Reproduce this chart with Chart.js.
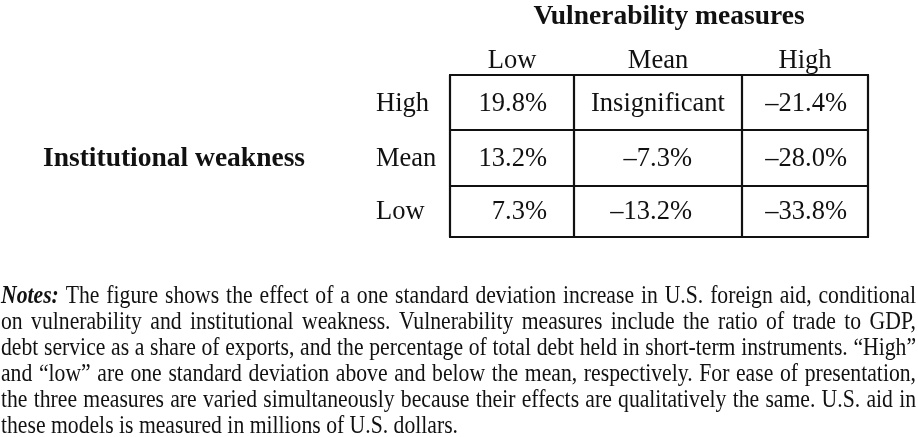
<!DOCTYPE html>
<html>
<head>
<meta charset="utf-8">
<script src="https://cdn.jsdelivr.net/npm/chart.js@4.4.1/dist/chart.umd.min.js"></script>
<style>
  html, body { margin: 0; padding: 0; background: #fff; }
  canvas { display: block; }
</style>
</head>
<body>
<canvas id="chart" width="918" height="437"></canvas>
<script>
// Table contents
const columnTitle = 'Vulnerability measures';
const rowTitle = 'Institutional weakness';
const vulnerabilityLevels = ['Low', 'Mean', 'High'];
const weaknessLevels = ['High', 'Mean', 'Low'];
const effectHighWeakness = [19.8, null, -21.4];
const effectMeanWeakness = [13.2, -7.3, -28.0];
const effectLowWeakness = [7.3, -13.2, -33.8];
const notesLabel = 'Notes:';
const notesLines = [
    'The figure shows the effect of a one standard deviation increase in U.S. foreign aid, conditional',
    'on vulnerability and institutional weakness. Vulnerability measures include the ratio of trade to GDP,',
    'debt service as a share of exports, and the percentage of total debt held in short-term instruments. \u201cHigh\u201d',
    'and \u201clow\u201d are one standard deviation above and below the mean, respectively. For ease of presentation,',
    'the three measures are varied simultaneously because their effects are qualitatively the same. U.S. aid in',
    'these models is measured in millions of U.S. dollars.'
];

// Layout in scale units (one unit = one pixel of the figure)
const colEdges = [450, 574, 742, 868];
const rowEdges = [75, 130, 186, 237];
const cellRight = [547, 692, 847];
const rowBase = [111, 166, 219];
const SERIF = '"Liberation Serif", "DejaVu Serif", serif';
const INK = '#111';

const rows = [effectHighWeakness, effectMeanWeakness, effectLowWeakness];

const fmt = function(v) {
    if (v === null) return 'Insignificant';
    return (v < 0 ? '\u2013' : '') + Math.abs(v).toFixed(1) + '%';
};

// One invisible point per cell, placed where its text sits
const cells = [];
rows.forEach(function(vals, r) {
    vals.forEach(function(v, c) {
        cells.push({
            x: v === null ? (colEdges[c] + colEdges[c + 1]) / 2 : cellRight[c],
            y: rowBase[r],
            label: fmt(v),
            centered: v === null
        });
    });
});

const tablePlugin = {
    id: 'tableDraw',
    afterDatasetsDraw(chart) {
        const ctx = chart.ctx;
        const xs = chart.scales.x;
        const ys = chart.scales.y;
        const px = v => xs.getPixelForValue(v);
        const py = v => ys.getPixelForValue(v);
        ctx.save();
        ctx.fillStyle = INK;
        ctx.strokeStyle = INK;
        ctx.textBaseline = 'alphabetic';

        // grid
        ctx.lineWidth = 2.2;
        ctx.beginPath();
        rowEdges.forEach(function(r) {
            ctx.moveTo(px(colEdges[0]) - 1, py(r));
            ctx.lineTo(px(colEdges[colEdges.length - 1]) + 1, py(r));
        });
        colEdges.forEach(function(c) {
            ctx.moveTo(px(c), py(rowEdges[0]));
            ctx.lineTo(px(c), py(rowEdges[rowEdges.length - 1]));
        });
        ctx.stroke();

        // cell values
        ctx.font = '26.5px ' + SERIF;
        const meta = chart.getDatasetMeta(0);
        meta.data.forEach(function(pt, i) {
            const d = chart.data.datasets[0].data[i];
            ctx.textAlign = d.centered ? 'center' : 'right';
            ctx.fillText(d.label, pt.x, pt.y);
        });

        // column and row headings
        ctx.textAlign = 'center';
        vulnerabilityLevels.forEach(function(lab, c) {
            ctx.fillText(lab, px((colEdges[c] + colEdges[c + 1]) / 2), py(68));
        });
        ctx.textAlign = 'left';
        weaknessLevels.forEach(function(lab, r) {
            ctx.fillText(lab, px(376), py(rowBase[r]));
        });
        ctx.font = 'bold 27.5px ' + SERIF;
        ctx.textAlign = 'center';
        ctx.fillText(columnTitle, px(669), py(24));
        ctx.textAlign = 'left';
        ctx.fillText(rowTitle, px(43), py(rowBase[1]));

        // notes, justified, condensed like the scan
        const regular = '25px ' + SERIF;
        const boldItalic = 'italic bold 25px ' + SERIF;
        const words = notesLines.map(l => l.split(' '));
        words[0].unshift(notesLabel);
        const widthOf = function(w, li, wi) {
            ctx.font = (li === 0 && wi === 0) ? boldItalic : regular;
            return ctx.measureText(w).width;
        };
        ctx.font = regular;
        const last = notesLines[notesLines.length - 1];
        const sx = (px(458) - px(1)) / ctx.measureText(last).width;
        const left = px(1);
        const right = px(916);
        const space = ctx.measureText(' ').width;
        words.forEach(function(ws, li) {
            const widths = ws.map((w, wi) => widthOf(w, li, wi));
            const total = widths.reduce((a, b) => a + b, 0);
            const avail = (right - left) / sx;
            const isLast = li === words.length - 1;
            const gap = isLast ? space : (avail - total) / (ws.length - 1);
            let cx = 0;
            const base = py(303 + li * 26);
            ctx.save();
            ctx.translate(left, base);
            ctx.scale(sx, 1);
            ws.forEach(function(w, wi) {
                ctx.font = (li === 0 && wi === 0) ? boldItalic : regular;
                ctx.fillText(w, cx, 0);
                cx += widths[wi] + gap;
            });
            ctx.restore();
        });
        ctx.restore();
    }
};

new Chart(document.getElementById('chart'), {
    type: 'scatter',
    data: {
        datasets: [{
            data: cells,
            pointRadius: 0,
            pointHoverRadius: 0
        }]
    },
    options: {
        responsive: false,
        animation: false,
        devicePixelRatio: 1,
        layout: { padding: 0 },
        events: [],
        plugins: {
            legend: { display: false },
            tooltip: { enabled: false }
        },
        scales: {
            x: { type: 'linear', min: 0, max: 918, display: false },
            y: { type: 'linear', min: 0, max: 437, reverse: true, display: false }
        }
    },
    plugins: [tablePlugin]
});
</script>
</body>
</html>
